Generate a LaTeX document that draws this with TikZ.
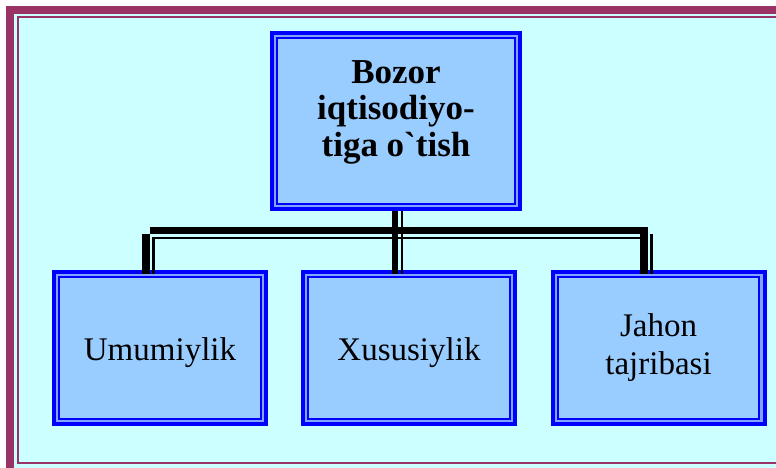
\documentclass[tikz,border=0pt]{standalone}
\usepackage{fontspec}
\setmainfont{Liberation Serif}[Ligatures=TeXOff]
\definecolor{framemaroon}{HTML}{993366}
\definecolor{bgcyan}{HTML}{CCFFFF}
\definecolor{boxblue}{HTML}{0000FF}
\definecolor{boxfill}{HTML}{99CCFF}
\definecolor{stripe}{HTML}{7FA6FF}
\begin{document}
\begin{tikzpicture}[x=1pt,y=1pt,
  box/.style={draw=boxblue, line width=8pt, fill=boxfill, inner sep=0pt,
    minimum width=208pt, minimum height=148pt},
  innerline/.style={draw=boxblue, line width=2pt},
  stripeline/.style={draw=stripe, line width=2.4pt},
  lbl/.style={inner sep=0pt, align=center, text=black,
    font=\fontsize{33}{37}\selectfont},
  thickc/.style={draw=black, line width=7pt},
  thinc/.style={draw=black, line width=2.3pt}]
\useasboundingbox (0,0) rectangle (776,467);
\fill[white] (0,0) rectangle (776,467);
\fill[bgcyan] (10,456.5) rectangle (790,-20);
\draw[framemaroon, line width=8pt] (10,456.5) rectangle (790,-20);
\draw[framemaroon, line width=1.8pt] (18,450) rectangle (781,3.7);
% boxes
\node[box, minimum width=244pt, minimum height=172pt] (top) at (396,346) {};
\node[box] (left) at (160,119) {};
\node[box] (mid) at (409,119) {};
\node[box] (right) at (658.5,119) {};
% double border of each box
\draw[stripeline] ([shift={(5.2,-5.2)}]top.north west) rectangle ([shift={(-5.2,5.2)}]top.south east);
\draw[stripeline] ([shift={(5.2,-5.2)}]left.north west) rectangle ([shift={(-5.2,5.2)}]left.south east);
\draw[stripeline] ([shift={(5.2,-5.2)}]mid.north west) rectangle ([shift={(-5.2,5.2)}]mid.south east);
\draw[stripeline] ([shift={(5.2,-5.2)}]right.north west) rectangle ([shift={(-5.2,5.2)}]right.south east);
\draw[innerline] ([shift={(7.4,-7.4)}]top.north west) rectangle ([shift={(-7.4,7.4)}]top.south east);
\draw[innerline] ([shift={(7.4,-7.4)}]left.north west) rectangle ([shift={(-7.4,7.4)}]left.south east);
\draw[innerline] ([shift={(7.4,-7.4)}]mid.north west) rectangle ([shift={(-7.4,7.4)}]mid.south east);
\draw[innerline] ([shift={(7.4,-7.4)}]right.north west) rectangle ([shift={(-7.4,7.4)}]right.south east);
% texts
\node[lbl, font=\fontsize{35}{36.5}\selectfont\bfseries] (toptext) at ([yshift=9]top.center) {Bozor\\iqtisodiyo-\\tiga o`tish};
\node[lbl] (lefttext) at ([yshift=-5]left.center) {Umumiylik};
\node[lbl] (midtext) at ([yshift=-5]mid.center) {Xususiylik};
\node[lbl, font=\fontsize{33}{38}\selectfont] (righttext) at (right.center) {Jahon\\tajribasi};
% connectors
\coordinate (t0) at ([xshift=-1]top.south);
\coordinate (m0) at ([xshift=-14, yshift=-3.5]mid.north);
\coordinate (l0) at ([xshift=-14.2, yshift=-3.5]left.north);
\coordinate (r0) at ([xshift=-14.7, yshift=-3.5]right.north);
\coordinate (hy) at ([yshift=-19.8]top.south);
\path (l0 |- hy) coordinate (lh);
\path (r0 |- hy) coordinate (rh);
% thin (shadow) lines
\draw[thinc] ([xshift=7.7, yshift=-7.5]lh) -- ([xshift=-3.8, yshift=-7.5]rh);
\draw[thinc] ([xshift=7.7, yshift=-6.2]lh) -- ([xshift=7.7]l0);
\draw[thinc] ([xshift=7.7, yshift=-3.5]rh) -- ([xshift=7.7]r0);
\draw[thinc, line width=2pt] ([xshift=7]t0) -- ([xshift=7]t0 |- m0);
% thick lines
\draw[thickc] ([xshift=3.8]lh) -- ([xshift=3.8]rh);
\draw[thickc, line width=7.6pt] ([yshift=-3.5]lh) -- (l0);
\draw[thickc, line width=7.6pt] ([yshift=-3.5]rh) -- (r0);
\draw[thickc, line width=5.5pt] (t0) -- (t0 |- m0);
\end{tikzpicture}
\end{document}
